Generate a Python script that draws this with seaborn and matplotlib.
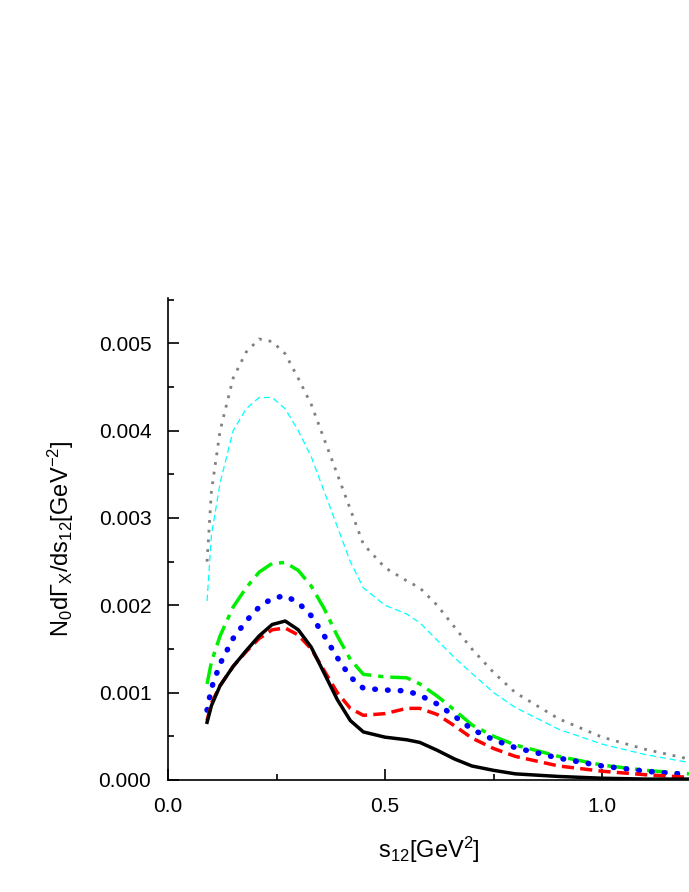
import matplotlib
matplotlib.use("Agg")
import matplotlib.pyplot as plt
import seaborn as sns
import pandas as pd
from matplotlib.ticker import MultipleLocator

plt.rcParams["font.family"] = "Liberation Sans"
plt.rcParams["mathtext.fontset"] = "custom"
plt.rcParams["mathtext.rm"] = "Liberation Sans"
plt.rcParams["mathtext.it"] = "Liberation Sans"

s12 = [0.09, 0.1, 0.12, 0.15, 0.18, 0.21, 0.24, 0.27, 0.3, 0.33, 0.36, 0.39, 0.42, 0.45, 0.5, 0.55, 0.58, 0.62, 0.66, 0.7, 0.75, 0.8, 0.9, 1.0, 1.1, 1.2]
black = [.00066, .00085, .00108, .00130, .00148, .00165, .00178, .00182, .00172, .00152, .00122, .00092, .00068, .00055, .00049, .00046, .00043, .00034, .00024, .00016, .00011, .00007, .00004, .00002, .00001, .00001]
red = [.00068, .00088, .00108, .00130, .00147, .00162, .00172, .00174, .00166, .00150, .00125, .00100, .00082, .00074, .00076, .00082, .00082, .00075, .00062, .00048, .00036, .00027, .00016, .00010, .00006, .00003]
blue = [.00080, .00105, .00133, .00162, .00182, .00198, .00208, .00211, .00203, .00188, .00165, .00140, .00118, .00105, .00103, .00102, .00097, .00087, .00073, .00058, .00046, .00037, .00025, .00016, .00010, .00006]
green = [.00110, .00135, .00165, .00198, .00220, .00238, .00248, .00249, .00240, .00222, .00196, .00165, .00138, .00121, .00118, .00117, .00110, .00096, .00080, .00063, .00050, .00040, .00027, .00017, .00011, .00007]
cyan = [.00205, .0028, .0034, .0040, .00425, .00438, .00438, .00425, .0040, .0037, .0033, .0029, .0025, .0022, .0020, .0019, .00180, .0016, .0014, .00122, .0010, .00083, .00058, .00041, .00029, .0002]
gray = [.0025, .0033, .0040, .0046, .0049, .00505, .00502, .00488, .0046, .0043, .0039, .0035, .0031, .0027, .00243, .00228, .0022, .0020, .00175, .0015, .00123, .00100, .00070, .00049, .00035, .00024]

fig = plt.figure(figsize=(6.89, 8.92), dpi=100)
ax = fig.add_axes([0.2438, 0.1256, 0.7562, 0.5404])

styles = [
    (gray, dict(color="gray", lw=2, ls=(0, (1, 2.5)))),
    (cyan, dict(color="cyan", lw=0.9, ls=(0, (5, 3)))),
    (green, dict(color="#00ee00", lw=2.5, ls=(0, (6, 2, 1.5, 2)))),
    (blue, dict(color="blue", lw=4, ls=(0, (0.1, 2.2)), dash_capstyle="round")),
    (red, dict(color="red", lw=2.5, ls=(0, (3.5, 1.8)))),
    (black, dict(color="black", lw=2.5, ls="-")),
]
for vals, kw in styles:
    df = pd.DataFrame({"x": s12, "y": vals})
    sns.lineplot(data=df, x="x", y="y", ax=ax, **kw)

ax.set_xlim(0, 1.2)
ax.set_ylim(0, 0.00552)
ax.xaxis.set_major_locator(MultipleLocator(0.5))
ax.xaxis.set_minor_locator(MultipleLocator(0.25))
ax.yaxis.set_major_locator(MultipleLocator(0.001))
ax.yaxis.set_minor_locator(MultipleLocator(0.0005))
ax.yaxis.set_major_formatter(matplotlib.ticker.FormatStrFormatter("%.3f"))
ax.xaxis.set_major_formatter(matplotlib.ticker.FormatStrFormatter("%.1f"))
ax.tick_params(which="both", direction="in", width=1.2, labelsize=15)
ax.tick_params(which="major", length=8)
ax.tick_params(which="minor", length=4)
ax.tick_params(axis="y", which="major", pad=12)
ax.tick_params(axis="x", which="major", pad=12)
for sp in ["top", "right"]:
    ax.spines[sp].set_visible(False)
for sp in ["left", "bottom"]:
    ax.spines[sp].set_linewidth(1.2)
ax.set_xlabel(r"s$_{12}$[GeV$^{2}$]", fontsize=17, labelpad=14)
ax.set_ylabel(r"N$_0$d$\Gamma_X$/ds$_{12}$[GeV$^{-2}$]", fontsize=17, labelpad=16)
fig.savefig("out.png", dpi=100)
